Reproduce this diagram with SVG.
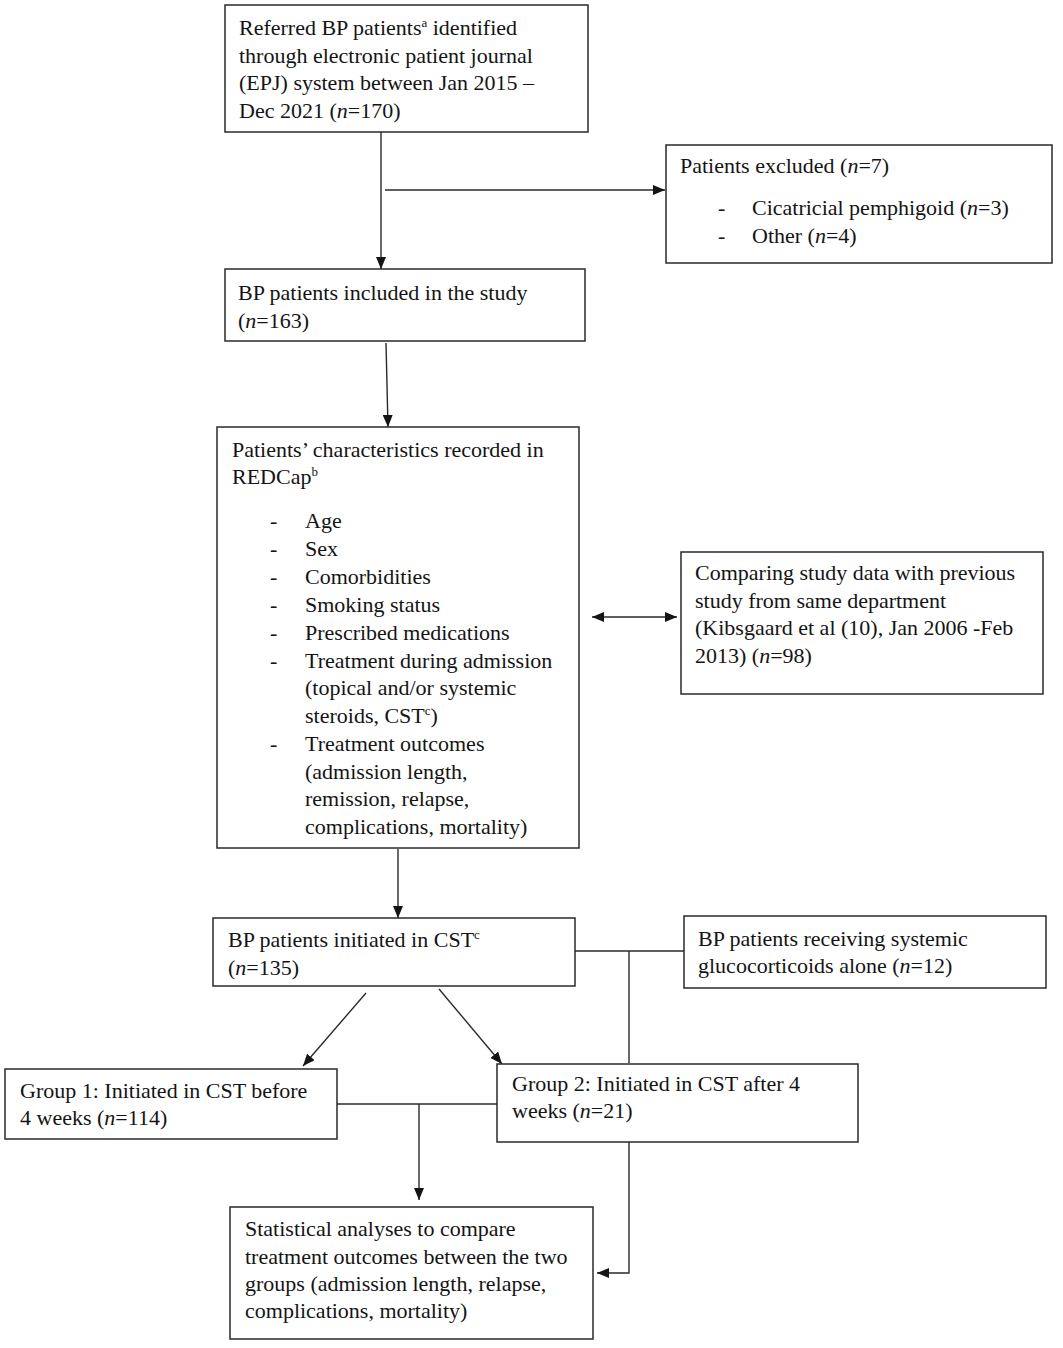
<svg xmlns="http://www.w3.org/2000/svg" width="1063" height="1348" viewBox="0 0 1063 1348">
<style>
.box{fill:#fff;stroke:#2a2a2a;stroke-width:1.5}
.t{font-family:"Liberation Serif","Times New Roman",serif;font-size:22px;fill:#141414}
.c{fill:none;stroke:#2a2a2a;stroke-width:1.4}
.sup{font-size:13px}
</style>
<defs>
<marker id="ah" viewBox="0 0 12 10" refX="12" refY="5" markerWidth="12" markerHeight="10" markerUnits="userSpaceOnUse" orient="auto-start-reverse">
<path d="M0,0 L12,5 L0,10 z" fill="#141414"/>
</marker>
</defs>
<rect width="1063" height="1348" fill="#fff"/>
<g id="connectors">
<line class="c" x1="381" y1="132" x2="381" y2="269" marker-end="url(#ah)"/>
<line class="c" x1="385" y1="190" x2="665" y2="190" marker-end="url(#ah)"/>
<line class="c" x1="386" y1="343" x2="388" y2="427" marker-end="url(#ah)"/>
<line class="c" x1="592" y1="617" x2="677" y2="617" marker-start="url(#ah)" marker-end="url(#ah)"/>
<line class="c" x1="398" y1="849" x2="398" y2="918" marker-end="url(#ah)"/>
<line class="c" x1="575" y1="951" x2="684" y2="951"/>
<line class="c" x1="629" y1="951" x2="629" y2="1063"/>
<polyline class="c" points="629,1142 629,1273 597,1273" marker-end="url(#ah)"/>
<line class="c" x1="366" y1="993" x2="303" y2="1066" marker-end="url(#ah)"/>
<line class="c" x1="439" y1="989" x2="502" y2="1064" marker-end="url(#ah)"/>
<line class="c" x1="337" y1="1104" x2="497" y2="1104"/>
<line class="c" x1="419" y1="1104" x2="419" y2="1200" marker-end="url(#ah)"/>
</g>
<g id="n1">
<rect class="box" x="225" y="5" width="363" height="127"/>
<text class="t" x="239" y="35">Referred BP patients<tspan class="sup" dy="-8">a</tspan><tspan dy="8"> identified</tspan></text>
<text class="t" x="239" y="63">through electronic patient journal</text>
<text class="t" x="239" y="90">(EPJ) system between Jan 2015 –</text>
<text class="t" x="239" y="118">Dec 2021 (<tspan font-style="italic">n</tspan>=170)</text>
</g>
<g id="n2">
<rect class="box" x="666" y="145" width="386" height="118"/>
<text class="t" x="680" y="173">Patients excluded (<tspan font-style="italic">n</tspan>=7)</text>
<text class="t" x="718" y="215">-</text>
<text class="t" x="752" y="215">Cicatricial pemphigoid (<tspan font-style="italic">n</tspan>=3)</text>
<text class="t" x="718" y="243">-</text>
<text class="t" x="752" y="243">Other (<tspan font-style="italic">n</tspan>=4)</text>
</g>
<g id="n3">
<rect class="box" x="225" y="269" width="360" height="72"/>
<text class="t" x="238" y="300">BP patients included in the study</text>
<text class="t" x="238" y="328">(<tspan font-style="italic">n</tspan>=163)</text>
</g>
<g id="n4">
<rect class="box" x="217" y="427" width="362" height="421"/>
<text class="t" x="232" y="457">Patients’ characteristics recorded in</text>
<text class="t" x="232" y="484">REDCap<tspan class="sup" dy="-8">b</tspan></text>
<g class="t">
<text x="270" y="528">-</text><text x="305" y="528">Age</text>
<text x="270" y="556">-</text><text x="305" y="556">Sex</text>
<text x="270" y="584">-</text><text x="305" y="584">Comorbidities</text>
<text x="270" y="612">-</text><text x="305" y="612">Smoking status</text>
<text x="270" y="640">-</text><text x="305" y="640">Prescribed medications</text>
<text x="270" y="668">-</text><text x="305" y="668">Treatment during admission</text>
<text x="305" y="695">(topical and/or systemic</text>
<text x="305" y="723">steroids, CST<tspan class="sup" dy="-8">c</tspan><tspan dy="8">)</tspan></text>
<text x="270" y="751">-</text><text x="305" y="751">Treatment outcomes</text>
<text x="305" y="779">(admission length,</text>
<text x="305" y="806">remission, relapse,</text>
<text x="305" y="834">complications, mortality)</text>
</g>
</g>
<g id="n5">
<rect class="box" x="681" y="552" width="362" height="142"/>
<text class="t" x="695" y="580">Comparing study data with previous</text>
<text class="t" x="695" y="608">study from same department</text>
<text class="t" x="695" y="635">(Kibsgaard et al (10), Jan 2006 -Feb</text>
<text class="t" x="695" y="663">2013) (<tspan font-style="italic">n</tspan>=98)</text>
</g>
<g id="n6">
<rect class="box" x="213" y="918" width="362" height="68"/>
<text class="t" x="228" y="947">BP patients initiated in CST<tspan class="sup" dy="-8">c</tspan></text>
<text class="t" x="228" y="975">(<tspan font-style="italic">n</tspan>=135)</text>
</g>
<g id="n7">
<rect class="box" x="684" y="916" width="362" height="72"/>
<text class="t" x="698" y="946">BP patients receiving systemic</text>
<text class="t" x="698" y="973">glucocorticoids alone (<tspan font-style="italic">n</tspan>=12)</text>
</g>
<g id="n8">
<rect class="box" x="5" y="1069" width="332" height="70"/>
<text class="t" x="20" y="1098">Group 1: Initiated in CST before</text>
<text class="t" x="20" y="1125">4 weeks (<tspan font-style="italic">n</tspan>=114)</text>
</g>
<g id="n9">
<rect class="box" x="497" y="1064" width="361" height="78"/>
<text class="t" x="512" y="1091">Group 2: Initiated in CST after 4</text>
<text class="t" x="512" y="1118">weeks (<tspan font-style="italic">n</tspan>=21)</text>
</g>
<g id="n10">
<rect class="box" x="230" y="1207" width="363" height="132"/>
<text class="t" x="245" y="1236">Statistical analyses to compare</text>
<text class="t" x="245" y="1264">treatment outcomes between the two</text>
<text class="t" x="245" y="1291">groups (admission length, relapse,</text>
<text class="t" x="245" y="1318">complications, mortality)</text>
</g>
</svg>
